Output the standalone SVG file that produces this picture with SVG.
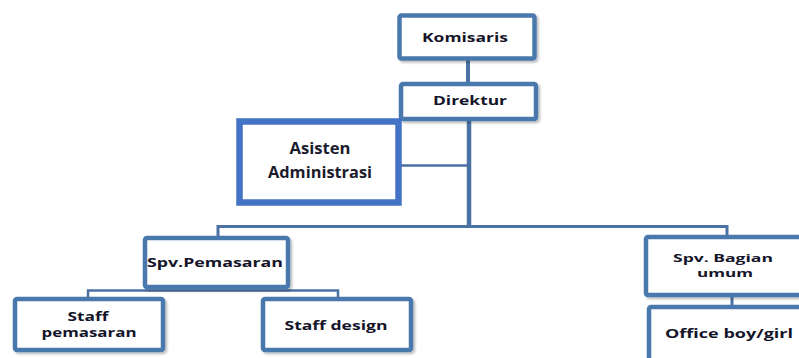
<svg xmlns="http://www.w3.org/2000/svg" width="799" height="358" viewBox="0 0 799 358">
<defs>
<filter id="sh" x="-10%" y="-10%" width="130%" height="140%">
<feDropShadow dx="2" dy="2" stdDeviation="1.2" flood-color="#000" flood-opacity="0.25"/>
</filter>
</defs>
<style>
.box{fill:#fff;stroke:#4a78ad;stroke-width:4.5;filter:url(#sh)}
.asis{fill:#fff;stroke:#4472c4;stroke-width:6.5}
.lbl{font-family:"Open Sans","DejaVu Sans",sans-serif;font-weight:700;font-size:13px;fill:#15152a;text-anchor:middle}
.two{font-size:11.5px}
.big{font-family:"Open Sans","DejaVu Sans",sans-serif;font-weight:700;font-size:16px;fill:#1c1c2c;text-anchor:middle}
.ln{stroke:#4a72a4;fill:none}
</style>
<rect width="799" height="358" fill="#fff"/>
<g id="connectors">
<line class="ln" x1="468" y1="60" x2="468" y2="84" stroke-width="4"/>
<line class="ln" x1="469" y1="120" x2="469" y2="228" stroke-width="4.5"/>
<line class="ln" x1="400" y1="165.5" x2="469" y2="165.5" stroke-width="2.5"/>
<polyline class="ln" points="218,237 218,226.5 727,226.5 727,237" stroke-width="3"/>
<polyline class="ln" points="88,299 88,290.5 338,290.5 338,299" stroke-width="2.5"/>
<line class="ln" x1="732" y1="296" x2="732" y2="307" stroke-width="3"/>
</g>
<g id="komisaris">
<rect class="box" x="399.5" y="15.5" width="135" height="43" rx="2" stroke-width="5"/>
<text class="lbl" x="465" y="42" textLength="86" lengthAdjust="spacingAndGlyphs">Komisaris</text>
</g>
<g id="direktur">
<rect class="box" x="401" y="84" width="135" height="35" rx="2"/>
<text class="lbl" x="470" y="105" textLength="74" lengthAdjust="spacingAndGlyphs">Direktur</text>
</g>
<g id="asisten">
<rect class="asis" x="239.5" y="121.5" width="159" height="81"/>
<text class="big" x="320" y="154" textLength="61" lengthAdjust="spacingAndGlyphs">Asisten</text>
<text class="big" x="320" y="178" textLength="104" lengthAdjust="spacingAndGlyphs">Administrasi</text>
</g>
<g id="spv-pemasaran">
<rect class="box" x="145" y="238" width="143" height="49" rx="2"/>
<text class="lbl" x="215" y="267" textLength="136" lengthAdjust="spacingAndGlyphs">Spv.Pemasaran</text>
</g>
<g id="staff-pemasaran">
<rect class="box" x="15" y="299" width="148" height="51" rx="2"/>
<text class="lbl two" x="88" y="321" textLength="41" lengthAdjust="spacingAndGlyphs">Staff</text>
<text class="lbl two" x="89" y="337" textLength="95" lengthAdjust="spacingAndGlyphs">pemasaran</text>
</g>
<g id="staff-design">
<rect class="box" x="263" y="299" width="148" height="51" rx="2"/>
<text class="lbl" x="336" y="330" textLength="103" lengthAdjust="spacingAndGlyphs">Staff design</text>
</g>
<g id="spv-bagian-umum">
<rect class="box" x="646" y="237" width="170" height="58" rx="2"/>
<text class="lbl" x="723" y="262" textLength="100" lengthAdjust="spacingAndGlyphs" style="font-size:11px">Spv. Bagian</text>
<text class="lbl" x="725" y="277" textLength="56" lengthAdjust="spacingAndGlyphs" style="font-size:11px">umum</text>
</g>
<g id="office-boy">
<rect class="box" x="649" y="307" width="170" height="70" rx="2"/>
<text class="lbl" x="729" y="338" textLength="128" lengthAdjust="spacingAndGlyphs">Office boy/girl</text>
</g>
</svg>
